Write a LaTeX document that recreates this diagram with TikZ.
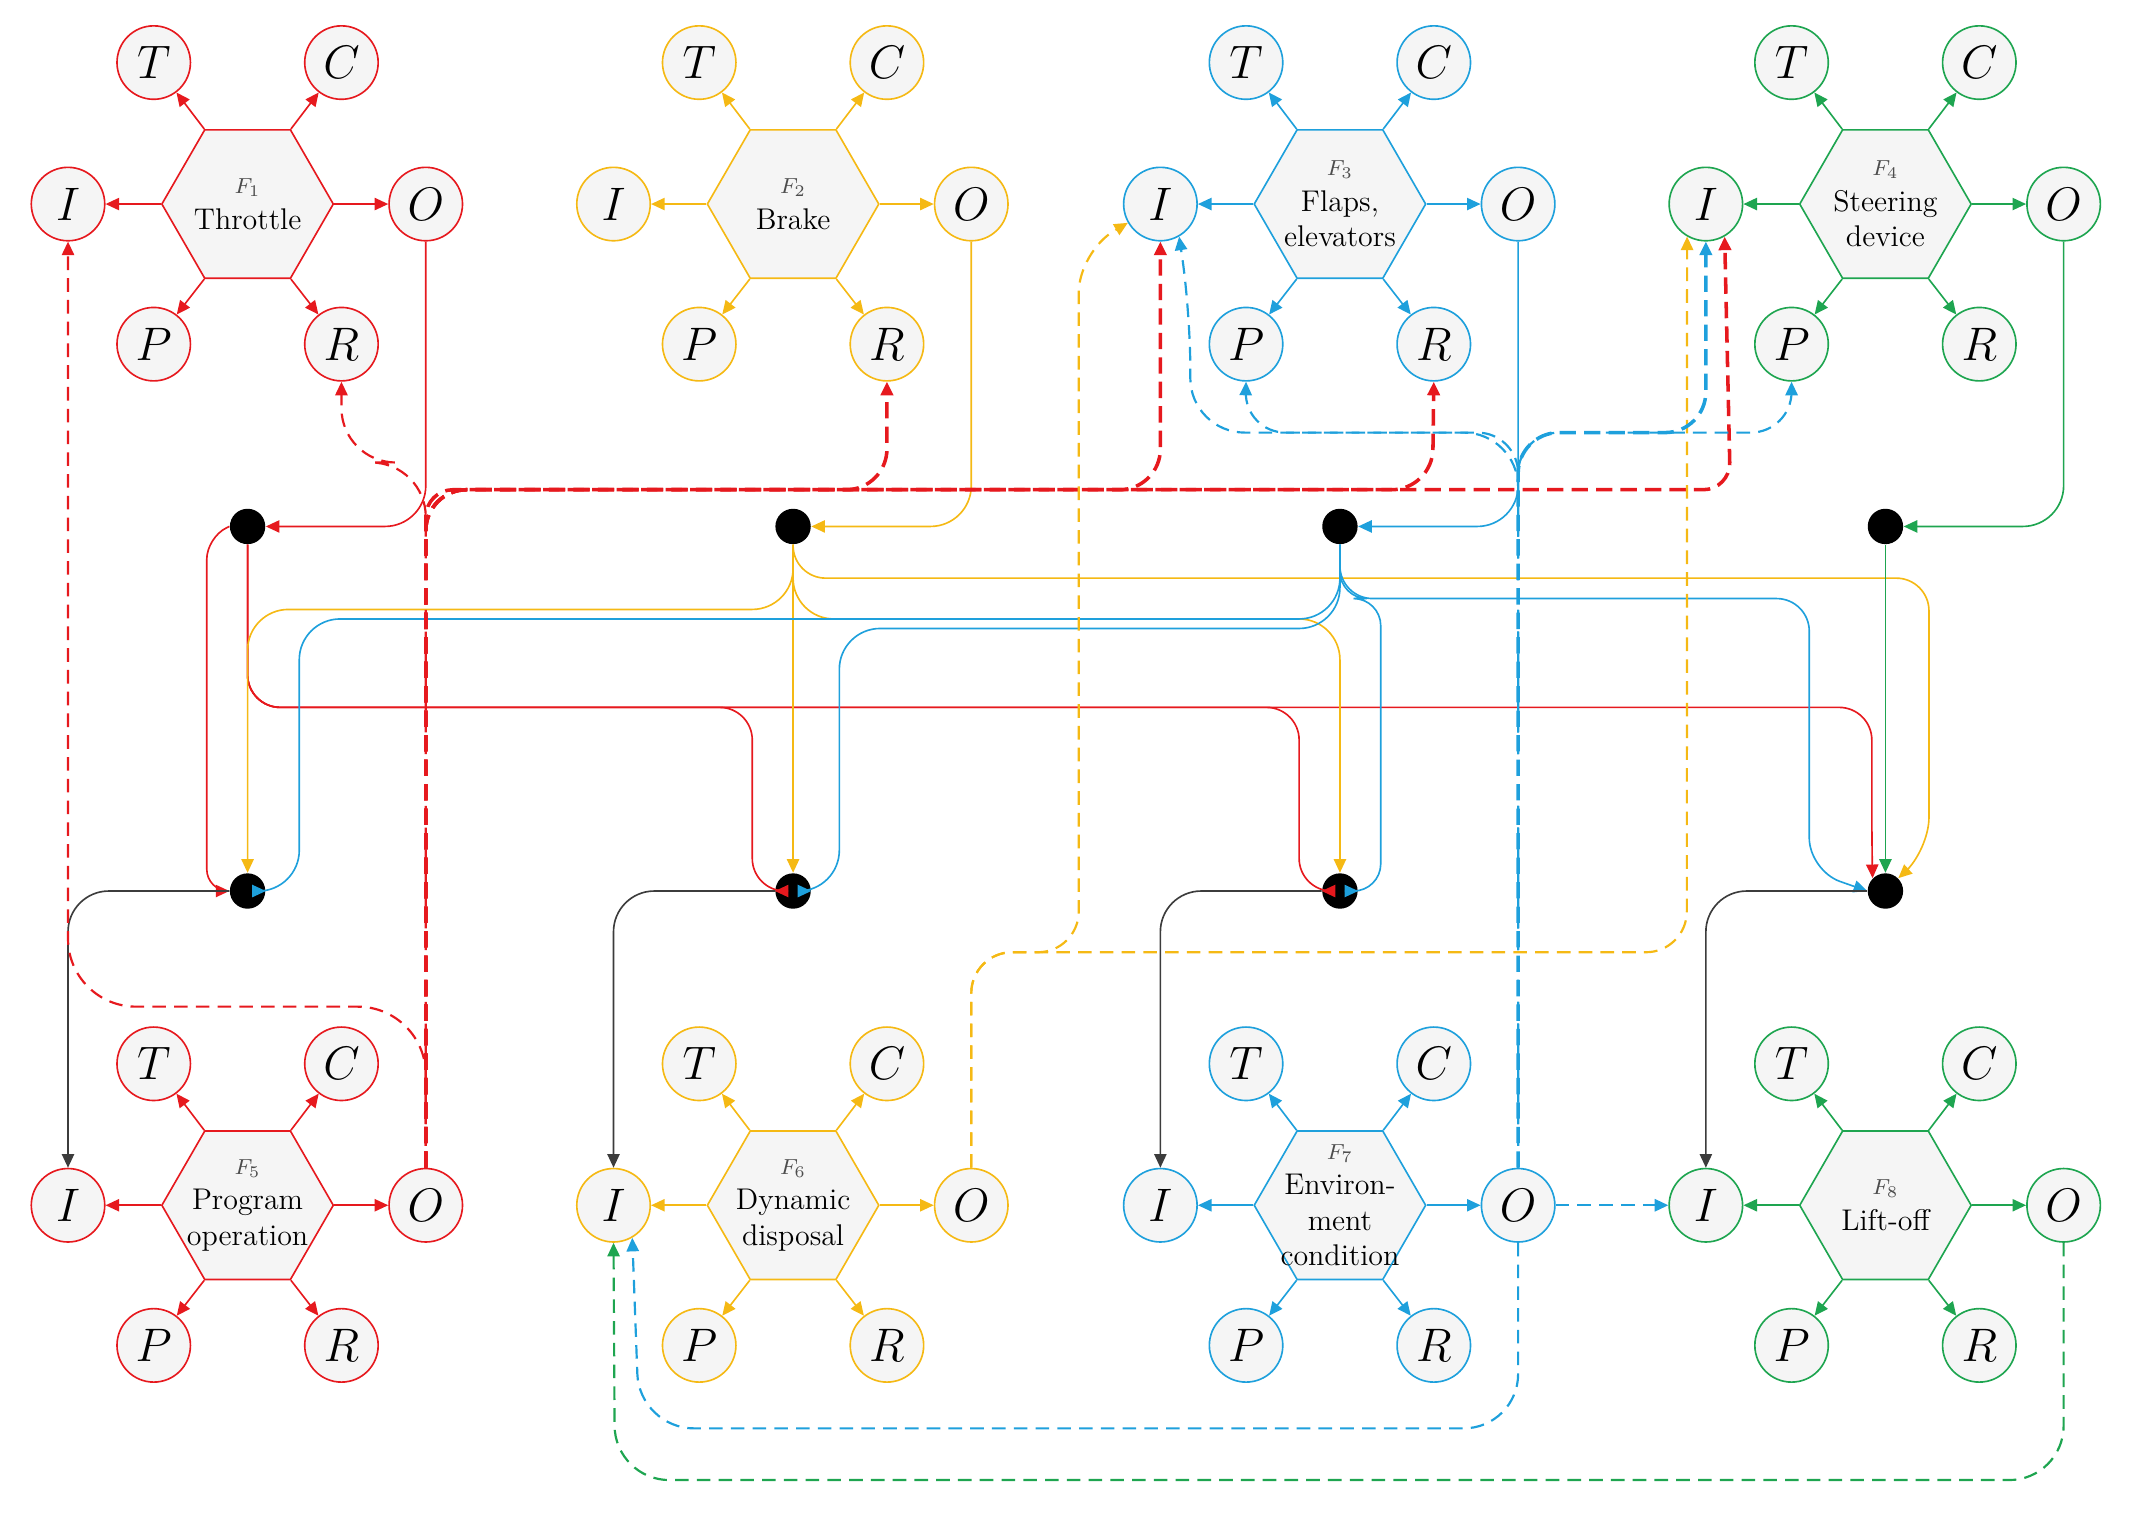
\documentclass[tikz,border=0pt]{standalone}
\usetikzlibrary{arrows.meta,shapes.geometric}
\definecolor{cR}{RGB}{230,25,30}
\definecolor{cY}{RGB}{245,185,20}
\definecolor{cB}{RGB}{30,160,220}
\definecolor{cG}{RGB}{30,165,80}
\definecolor{cK}{RGB}{60,60,60}
\tikzset{
  hexa/.style={regular polygon,regular polygon sides=6,minimum size=63pt,inner sep=0pt,fill=black!4,line width=0.6pt},
  sat/.style={circle,minimum size=27pt,inner sep=0pt,fill=black!4,line width=0.6pt,font=\fontsize{16}{18}\selectfont},
  hub/.style={circle,fill=black,minimum size=13pt,inner sep=0pt},
  htxt/.style={align=center,font=\fontsize{11}{13}\selectfont},
  tip/.style={-{Triangle[length=5pt,width=4.5pt]}},
  ln/.style={tip,line width=0.6pt},
  dsh/.style={tip,line width=0.8pt,dash pattern=on 5pt off 3pt},
  tdsh/.style={tip,line width=1.3pt,dash pattern=on 6pt off 3pt},
}
\newcommand\fblock[6]{%
  \node[hexa,draw=#4] (#1) at (#2,#3) {};
  \node[htxt] (#1t) at (#2,#3) {{\fontsize{8}{9}\selectfont\color{black!70}$F_{#5}$}\\#6};
  \node[sat,draw=#4] (#1T) at (#2-69,#3-104) {$T$};
  \node[sat,draw=#4] (#1C) at (#2+69,#3-104) {$C$};
  \node[sat,draw=#4] (#1I) at (#2-132,#3) {$I$};
  \node[sat,draw=#4] (#1O) at (#2+131,#3) {$O$};
  \node[sat,draw=#4] (#1P) at (#2-69,#3+103) {$P$};
  \node[sat,draw=#4] (#1R) at (#2+69,#3+103) {$R$};
  \draw[ln,#4] (#1.corner 2) -- (#1T);
  \draw[ln,#4] (#1.corner 1) -- (#1C);
  \draw[ln,#4] (#1.corner 3) -- (#1I);
  \draw[ln,#4] (#1.corner 6) -- (#1O);
  \draw[ln,#4] (#1.corner 4) -- (#1P);
  \draw[ln,#4] (#1.corner 5) -- (#1R);
}
\begin{document}
\begin{tikzpicture}[x=0.5pt,y=-0.5pt]
\useasboundingbox (0,0) rectangle (1568,1113);
\fblock{Fa}{182}{150}{cR}{1}{Throttle}
\fblock{Fb}{583}{150}{cY}{2}{Brake}
\fblock{Fc}{985}{150}{cB}{3}{Flaps,\\elevators}
\fblock{Fd}{1386}{150}{cG}{4}{Steering\\device}
\fblock{Fe}{182}{886}{cR}{5}{Program\\operation}
\fblock{Ff}{583}{886}{cY}{6}{Dynamic\\disposal}
\fblock{Fg}{985}{886}{cB}{7}{Environ-\\ment\\condition}
\fblock{Fh}{1386}{886}{cG}{8}{Lift-off}
% hubs
\node[hub] (a1) at (182,387) {};
\node[hub] (a2) at (583,387) {};
\node[hub] (a3) at (985,387) {};
\node[hub] (a4) at (1386,387) {};
\node[hub] (b1) at (182,655) {};
\node[hub] (b2) at (583,655) {};
\node[hub] (b3) at (985,655) {};
\node[hub] (b4) at (1386,655) {};
% outputs to hubs
\draw[ln,cR,rounded corners=15pt] (FaO.south) |- (a1.east);
\draw[ln,cY,rounded corners=15pt] (FbO.south) |- (a2.east);
\draw[ln,cB,rounded corners=15pt] (FcO.south) |- (a3.east);
\draw[ln,cG,rounded corners=15pt] (FdO.south) |- (a4.east);
% red from a1
\draw[ln,cR,rounded corners=8pt] (a1.west) -- (152,395) -- (152,655) -- (b1.west);
\draw[ln,cR,rounded corners=12pt] (a1.south) -- (182,520) -- (553,520) -- (553,655) -- (b2.west);
\draw[ln,cR,rounded corners=12pt] (a1.south) -- (182,520) -- (955,520) -- (955,655) -- (b3.west);
\draw[ln,cR,rounded corners=12pt] (a1.south) -- (182,520) -- (1376,520) -- (1376,620) -- (b4.north west);
% yellow from a2
\draw[ln,cY] (a2.south) -- (b2.north);
\draw[ln,cY,rounded corners=15pt] (a2.south) -- (583,448) -- (182,448) -- (b1.north);
\draw[ln,cY,rounded corners=15pt] (a2.south) -- (583,455) -- (985,455) -- (b3.north);
\draw[ln,cY,rounded corners=12pt] (a2.south) -- (583,425) -- (1418,425) -- (1418,625) -- (b4.north east);
% blue from a3
\draw[ln,cB,rounded corners=15pt] (a3.south) -- (985,455) -- (220,455) -- (220,655) -- (b1.east);
\draw[ln,cB,rounded corners=15pt] (a3.south) -- (985,462) -- (617,462) -- (617,655) -- (b2.east);
\draw[ln,cB,rounded corners=10pt] (a3.south) -- (985,440) -- (1015,440) -- (1015,655) -- (b3.east);
\draw[ln,cB,rounded corners=12pt] (a3.south) -- (985,440) -- (1330,440) -- (1330,640) -- (b4.west);
% green
\draw[ln,cG] (a4.south) -- (b4.north);
% gray to bottom inputs
\draw[ln,cK,rounded corners=15pt] (b1.west) -| (FeI.north);
\draw[ln,cK,rounded corners=15pt] (b2.west) -| (FfI.north);
\draw[ln,cK,rounded corners=15pt] (b3.west) -| (FgI.north);
\draw[ln,cK,rounded corners=15pt] (b4.west) -| (FhI.north);
% red dashed from F5.O
\draw[tdsh,cR,rounded corners=15pt] (FeO.north) -- (313,360) -- (652,360) -- (FbR.south);
\draw[tdsh,cR,rounded corners=15pt] (FeO.north) -- (313,360) -- (853,360) -- (FcI.south);
\draw[tdsh,cR,rounded corners=15pt] (FeO.north) -- (313,360) -- (1053,360) -- (FcR.south);
\draw[tdsh,cR,rounded corners=10pt] (FeO.north) -- (313,360) -- (1272,360) -- (FdI.-60);
\draw[dsh,cR,rounded corners=25pt] (FeO.north) -- (313,740) -- (50,740) -- (FaI.south);
\draw[dsh,cR,rounded corners=20pt] (FeO.north) -- (313,340) -- (251,340) -- (FaR.south);
% yellow dashed from F6.O
\draw[dsh,cY,rounded corners=15pt] (FfO.north) -- (714,700) -- (793,700) -- (793,185) -- (FcI.-150);
\draw[dsh,cY,rounded corners=15pt] (FfO.north) -- (714,700) -- (1240,700) -- (FdI.-120);
% blue dashed from F7.O
\draw[tdsh,cB,rounded corners=15pt] (FgO.north) -- (1116,318) -- (1254,318) -- (FdI.south);
\draw[dsh,cB,rounded corners=15pt] (FgO.north) -- (1116,318) -- (1317,318) -- (FdP.south);
\draw[dsh,cB,rounded corners=15pt] (FgO.north) -- (1116,318) -- (915,318) -- (FcP.south);
\draw[dsh,cB,rounded corners=20pt] (FgO.north) -- (1116,318) -- (875,318) -- (875,230) -- (FcI.-60);
\draw[dsh,cB,rounded corners=20pt] (FgO.south) -- (1116,1050) -- (470,1050) -- (FfI.-60);
\draw[dsh,cB] (FgO.east) -- (FhI.west);
% green dashed
\draw[dsh,cG,rounded corners=20pt] (FhO.south) -- (1517,1088) -- (452,1088) -- (FfI.south);
\end{tikzpicture}
\end{document}
